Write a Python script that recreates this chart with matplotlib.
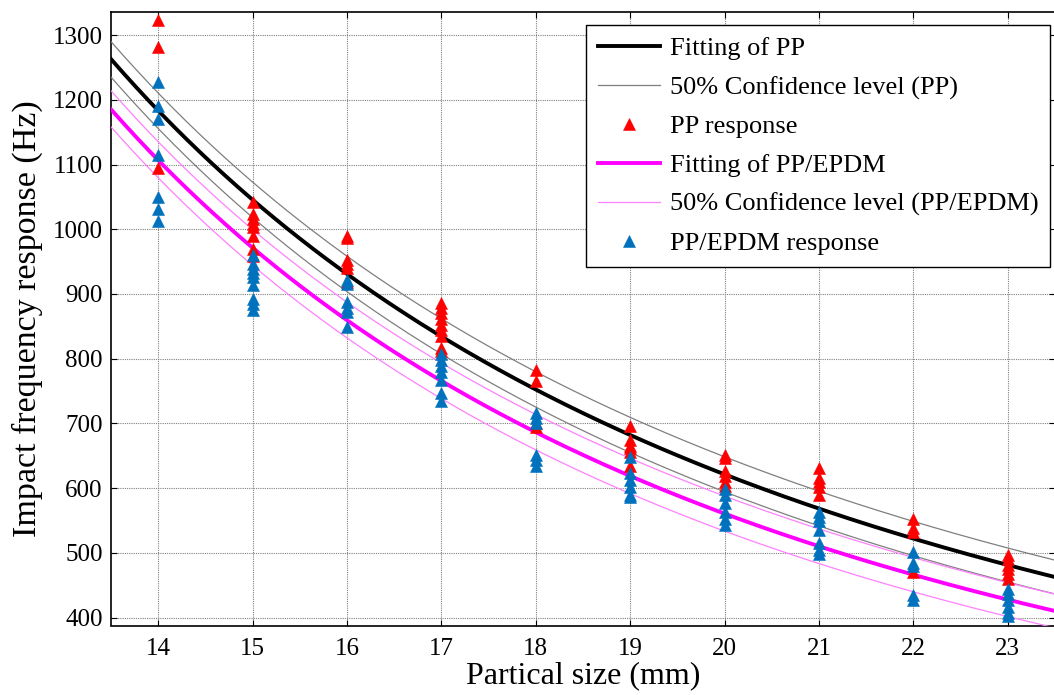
import matplotlib
matplotlib.use("Agg")
import matplotlib.pyplot as plt
import numpy as np

plt.rcParams['font.family'] = ['Liberation Serif', 'DejaVu Serif']

# ---- data ----
fit_x = [13.5, 14, 15, 16, 17, 18, 19, 20, 21, 22, 23, 23.5]
pp_fit = [1256, 1189, 1049, 931, 833, 752, 680, 621, 571, 522, 481, 463]
pp_upper = [1282, 1217, 1077, 958, 861, 779, 707, 648, 598, 549, 507, 489]
pp_lower = [1228, 1161, 1022, 904, 806, 725, 653, 594, 544, 495, 455, 437]

ep_fit = [1180, 1111, 973, 860, 766, 686, 618, 561, 510, 466, 428, 411]
ep_upper = [1210, 1139, 1000, 888, 793, 714, 645, 588, 538, 492, 454, 437]
ep_lower = [1153, 1083, 946, 833, 739, 659, 591, 533, 483, 440, 402, 385]

pp_resp = {
    14: [1323, 1281, 1095],
    15: [1042, 1023, 1016, 1008, 1003, 990, 970, 958],
    16: [989, 986, 953, 946, 940, 918],
    17: [886, 878, 870, 861, 852, 844, 835, 816, 812],
    18: [783, 765, 701, 694],
    19: [696, 674, 666, 662, 656, 634],
    20: [651, 646, 626, 619, 609, 603],
    21: [632, 616, 610, 602, 590],
    22: [552, 538, 532, 471],
    23: [497, 490, 482, 475, 467, 460],
}
ep_resp = {
    14: [1228, 1190, 1171, 1115, 1050, 1032, 1013],
    15: [960, 946, 938, 933, 926, 914, 893, 884, 876],
    16: [922, 916, 887, 878, 872, 849],
    17: [808, 798, 789, 779, 767, 747, 734],
    18: [716, 709, 700, 652, 643, 634],
    19: [648, 623, 612, 602, 590, 586],
    20: [599, 590, 577, 564, 552, 543],
    21: [564, 556, 549, 536, 516, 505, 499],
    22: [502, 485, 480, 435, 428],
    23: [445, 437, 427, 416, 408, 403],
}

x_ticks = [14, 15, 16, 17, 18, 19, 20, 21, 22, 23]
y_ticks = [400, 500, 600, 700, 800, 900, 1000, 1100, 1200, 1300]

# ---- plotting ----
W, H = 1054, 695
fig = plt.figure(figsize=(W / 100, H / 100), dpi=100)
ax_l, ax_r, ax_t, ax_b = 111, 1055, 11.7, 625.5
ax = fig.add_axes([ax_l / W, (H - ax_b) / H, (ax_r - ax_l) / W, (ax_b - ax_t) / H])

def smooth(xs, ys):
    xs = np.asarray(xs, float)
    ys = np.asarray(ys, float)
    xx = np.linspace(xs[0], xs[-1], 300)
    coef = np.polyfit(np.log(xs), np.log(ys), 2)
    return xx, np.exp(np.polyval(coef, np.log(xx)))

blue = '#0072BD'
ms = 8

ax.plot(*smooth(fit_x, pp_fit), color='black', lw=2.8, label='Fitting of PP', zorder=3)
ax.plot(*smooth(fit_x, pp_upper), color='#7f7f7f', lw=0.9,
        label='50% Confidence level (PP)', zorder=3)
ax.plot(*smooth(fit_x, pp_lower), color='#7f7f7f', lw=0.9, zorder=3)

px, py = [], []
for k, vals in pp_resp.items():
    px += [k] * len(vals)
    py += vals
ax.plot(px, py, linestyle='none', marker='^', ms=ms, color='#ff0000',
        markeredgewidth=0.4, label='PP response', zorder=4)

ax.plot(*smooth(fit_x, ep_fit), color='#ff00ff', lw=2.8, label='Fitting of PP/EPDM', zorder=3)
ax.plot(*smooth(fit_x, ep_upper), color='#ff80ff', lw=0.9,
        label='50% Confidence level (PP/EPDM)', zorder=3)
ax.plot(*smooth(fit_x, ep_lower), color='#ff80ff', lw=0.9, zorder=3)

bx, by = [], []
for k, vals in ep_resp.items():
    bx += [k] * len(vals)
    by += vals
ax.plot(bx, by, linestyle='none', marker='^', ms=ms, color=blue,
        markeredgewidth=0.4, label='PP/EPDM response', zorder=5)

ax.set_xlim(13.5, 23.5)
ax.set_ylim(388, 1336)
ax.set_xticks(x_ticks)
ax.set_yticks(y_ticks)
ax.grid(True, color='#808080', linestyle=(0, (1, 1)), linewidth=0.8)
ax.set_axisbelow(True)
ax.tick_params(direction='in', top=True, right=True, length=4, labelsize=18)
ax.tick_params(axis='x', pad=9)
ax.tick_params(axis='y', pad=6)
for s in ax.spines.values():
    s.set_linewidth(1.2)

ax.set_xlabel('Partical size (mm)', fontsize=23, labelpad=1)
ax.set_ylabel('Impact frequency response (Hz)', fontsize=24.5, labelpad=7)

anchor = ((1050 - ax_l) / (ax_r - ax_l), (ax_b - 25) / (ax_b - ax_t))
leg = ax.legend(loc='upper right', bbox_to_anchor=anchor, borderaxespad=0,
                fontsize=19, frameon=True, fancybox=False,
                edgecolor='black', framealpha=1, borderpad=0.45,
                handlelength=2.37, handletextpad=0.35, labelspacing=0.58)
leg.get_frame().set_linewidth(1.0)

fig.savefig('out.png', dpi=100)
